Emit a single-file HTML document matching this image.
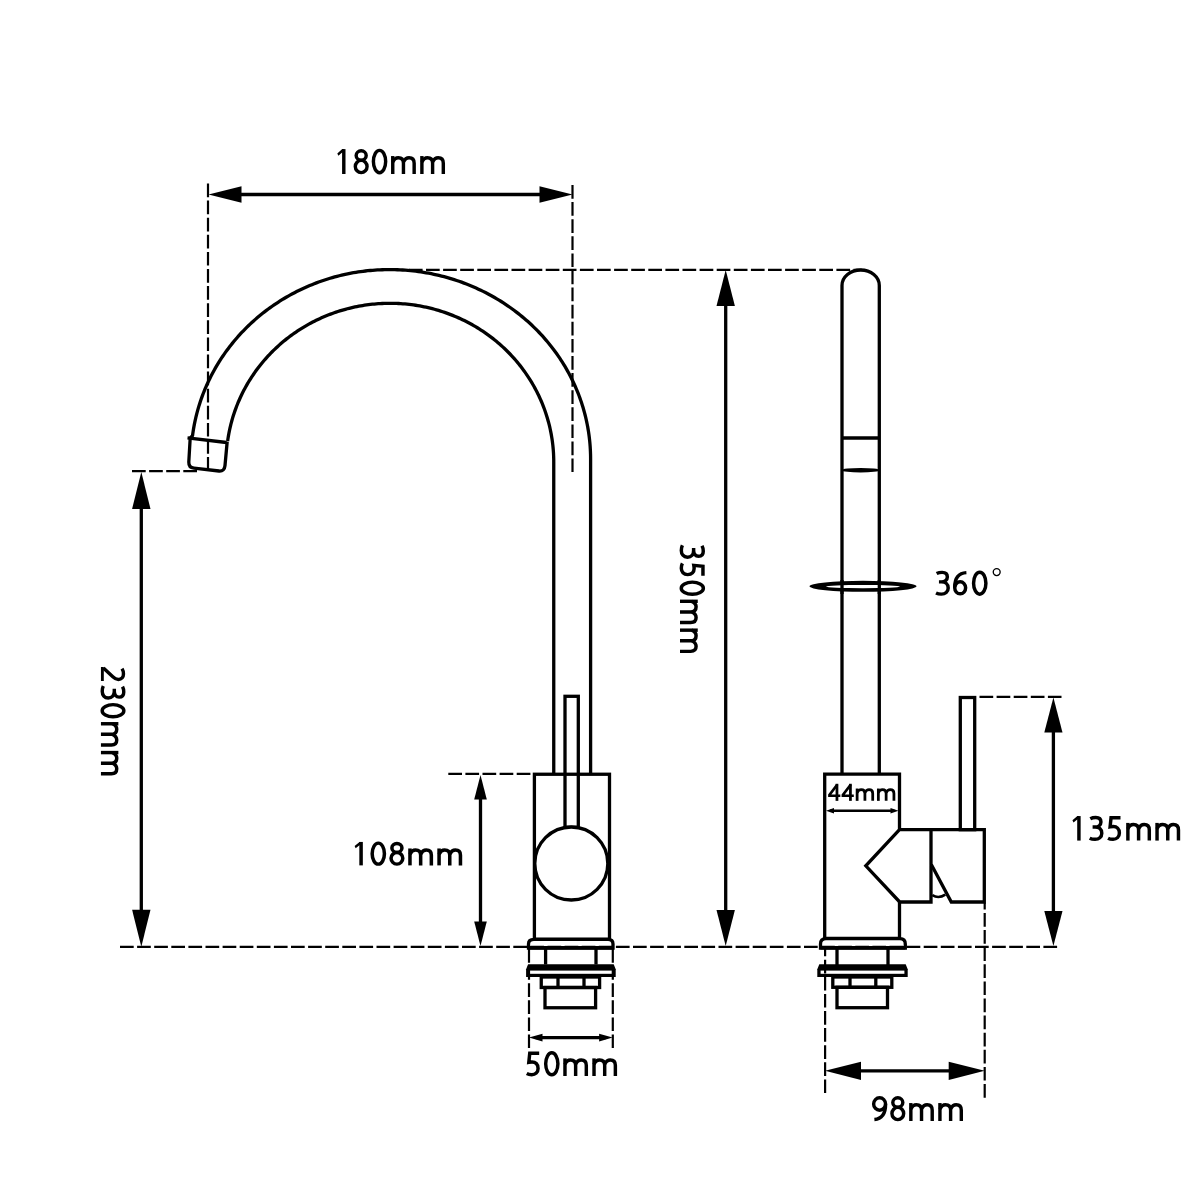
<!DOCTYPE html>
<html><head><meta charset="utf-8"><style>
html,body{margin:0;padding:0;background:#fff;width:1200px;height:1200px;overflow:hidden}
svg{display:block}
text{font-family:"Liberation Sans",sans-serif;fill:#000}
</style></head><body>
<svg width="1200" height="1200" viewBox="0 0 1200 1200" stroke="#000" fill="none" stroke-linecap="butt">
<rect x="0" y="0" width="1200" height="1200" fill="#fff" stroke="none"/>
<line x1="225.0" y1="194.5" x2="556.0" y2="194.5" stroke-width="3.3"/>
<polygon points="208.5,194.5 241.5,186.2 241.5,202.8" fill="#000" stroke="none"/>
<polygon points="572.5,194.5 539.5,186.2 539.5,202.8" fill="#000" stroke="none"/>
<line x1="141.3" y1="490.5" x2="141.3" y2="928.2" stroke-width="3.3"/>
<polygon points="141.3,472 132.10000000000002,509 150.5,509" fill="#000" stroke="none"/>
<polygon points="141.3,946.7 132.10000000000002,909.7 150.5,909.7" fill="#000" stroke="none"/>
<line x1="725.7" y1="288.0" x2="725.7" y2="928.0" stroke-width="3.3"/>
<polygon points="725.7,270 716.5,306 734.9000000000001,306" fill="#000" stroke="none"/>
<polygon points="725.7,946 716.5,910 734.9000000000001,910" fill="#000" stroke="none"/>
<line x1="480.5" y1="787.25" x2="480.5" y2="933.75" stroke-width="3.3"/>
<polygon points="480.5,775 474.2,799.5 486.8,799.5" fill="#000" stroke="none"/>
<polygon points="480.5,946 474.2,921.5 486.8,921.5" fill="#000" stroke="none"/>
<line x1="1053.4" y1="715.0" x2="1053.4" y2="928.5" stroke-width="3.3"/>
<polygon points="1053.4,697.5 1044.3000000000002,732.5 1062.5,732.5" fill="#000" stroke="none"/>
<polygon points="1053.4,946 1044.3000000000002,911 1062.5,911" fill="#000" stroke="none"/>
<line x1="535.75" y1="1037.6" x2="605.85" y2="1037.6" stroke-width="3.4"/>
<polygon points="529,1037.6 542.5,1033.8 542.5,1041.3999999999999" fill="#000" stroke="none"/>
<polygon points="612.6,1037.6 599.1,1033.8 599.1,1041.3999999999999" fill="#000" stroke="none"/>
<line x1="830.0" y1="810.8" x2="894.5" y2="810.8" stroke-width="2.6"/>
<polygon points="826,810.8 834,808.0 834,813.5999999999999" fill="#000" stroke="none"/>
<polygon points="898.5,810.8 890.5,808.0 890.5,813.5999999999999" fill="#000" stroke="none"/>
<line x1="843.0" y1="1070.8" x2="966.7" y2="1070.8" stroke-width="3.3"/>
<polygon points="825,1070.8 861,1061.7 861,1079.8999999999999" fill="#000" stroke="none"/>
<polygon points="984.7,1070.8 948.7,1061.7 948.7,1079.8999999999999" fill="#000" stroke="none"/>
<path d="M190.30,438.00 L192.51,435.71 L192.82,433.43 L193.16,431.15 L193.53,428.87 L193.93,426.60 L194.35,424.33 L194.81,422.07 L195.30,419.81 L195.81,417.56 L196.35,415.31 L196.92,413.08 L197.52,410.84 L198.15,408.62 L198.81,406.40 L199.49,404.19 L200.20,401.99 L200.95,399.80 L201.71,397.62 L202.51,395.44 L203.33,393.28 L204.19,391.12 L205.07,388.97 L205.97,386.84 L206.91,384.71 L207.87,382.60 L208.85,380.50 L209.87,378.41 L210.91,376.33 L211.98,374.26 L213.07,372.21 L214.19,370.17 L215.33,368.14 L216.50,366.12 L217.70,364.12 L218.92,362.14 L220.17,360.16 L221.44,358.20 L222.74,356.26 L224.06,354.33 L225.41,352.42 L226.78,350.52 L228.18,348.64 L229.59,346.78 L231.04,344.93 L232.50,343.10 L233.99,341.29 L235.50,339.49 L237.04,337.71 L238.60,335.95 L240.18,334.21 L241.78,332.49 L243.40,330.78 L245.05,329.10 L246.71,327.43 L248.40,325.78 L250.11,324.15 L251.84,322.55 L253.59,320.96 L255.36,319.39 L257.15,317.84 L258.96,316.32 L260.79,314.81 L262.63,313.33 L264.50,311.87 L266.39,310.43 L268.29,309.01 L270.21,307.62 L272.15,306.24 L274.10,304.89 L276.08,303.56 L278.07,302.26 L280.07,300.98 L282.10,299.72 L284.14,298.48 L286.19,297.27 L288.26,296.09 L290.34,294.92 L292.44,293.78 L294.56,292.67 L296.68,291.58 L298.82,290.52 L300.98,289.48 L303.15,288.46 L305.33,287.47 L307.52,286.51 L309.72,285.57 L311.94,284.66 L314.17,283.77 L316.41,282.91 L318.66,282.07 L320.92,281.26 L323.19,280.48 L325.47,279.72 L327.76,278.99 L330.06,278.29 L332.37,277.61 L334.69,276.96 L337.01,276.34 L339.34,275.75 L341.68,275.18 L344.03,274.64 L346.38,274.12 L348.74,273.64 L351.11,273.18 L353.48,272.74 L355.86,272.34 L358.24,271.96 L360.63,271.61 L363.02,271.29 L365.41,271.00 L367.81,270.73 L370.21,270.50 L372.62,270.29 L375.03,270.10 L377.43,269.95 L379.85,269.82 L382.26,269.73 L384.67,269.66 L387.09,269.61 L389.50,269.60 L392.13,269.62 L394.76,269.66 L397.40,269.75 L400.02,269.86 L402.65,270.01 L405.28,270.18 L407.90,270.39 L410.52,270.64 L413.14,270.91 L415.75,271.22 L418.36,271.56 L420.96,271.93 L423.56,272.34 L426.15,272.77 L428.73,273.24 L431.31,273.74 L433.88,274.27 L436.45,274.83 L439.00,275.43 L441.55,276.05 L444.09,276.71 L446.62,277.40 L449.13,278.12 L451.64,278.87 L454.14,279.65 L456.63,280.46 L459.10,281.31 L461.57,282.18 L464.02,283.08 L466.46,284.02 L468.88,284.98 L471.29,285.97 L473.69,287.00 L476.08,288.05 L478.44,289.13 L480.80,290.24 L483.14,291.38 L485.46,292.55 L487.76,293.75 L490.05,294.97 L492.32,296.23 L494.57,297.51 L496.81,298.82 L499.03,300.16 L501.23,301.52 L503.40,302.91 L505.56,304.33 L507.70,305.77 L509.82,307.24 L511.92,308.74 L514.00,310.26 L516.06,311.81 L518.09,313.38 L520.10,314.98 L522.09,316.60 L524.06,318.25 L526.01,319.92 L527.93,321.61 L529.83,323.33 L531.70,325.07 L533.55,326.84 L535.37,328.63 L537.17,330.44 L538.95,332.27 L540.69,334.12 L542.42,335.99 L544.11,337.89 L545.78,339.81 L547.43,341.74 L549.04,343.70 L550.63,345.68 L552.19,347.67 L553.73,349.69 L555.23,351.72 L556.71,353.77 L558.16,355.85 L559.58,357.93 L560.97,360.04 L562.33,362.16 L563.66,364.30 L564.96,366.46 L566.23,368.63 L567.47,370.81 L568.68,373.01 L569.86,375.23 L571.01,377.46 L572.13,379.71 L573.21,381.96 L574.27,384.24 L575.29,386.52 L576.28,388.82 L577.24,391.13 L578.17,393.45 L579.07,395.78 L579.93,398.12 L580.76,400.47 L581.55,402.84 L582.32,405.21 L583.05,407.59 L583.75,409.98 L584.41,412.38 L585.04,414.79 L585.64,417.20 L586.21,419.62 L586.74,422.05 L587.23,424.48 L587.70,426.93 L588.12,429.37 L588.52,431.82 L588.88,434.28 L589.21,436.74 L589.50,439.20 L589.76,441.67 L589.98,444.14 L590.17,446.61 L590.32,449.09 L590.44,451.56 L590.53,454.04 L590.58,456.52 L590.60,459.00 L590.6,774" fill="none" stroke-width="3.3" stroke-linejoin="round"/>
<path d="M227.64,441.00 L227.91,439.12 L228.21,437.24 L228.52,435.36 L228.87,433.49 L229.23,431.62 L229.62,429.75 L230.03,427.89 L230.46,426.04 L230.92,424.19 L231.40,422.34 L231.90,420.51 L232.42,418.67 L232.97,416.85 L233.54,415.03 L234.13,413.21 L234.75,411.41 L235.38,409.61 L236.04,407.82 L236.72,406.03 L237.43,404.26 L238.15,402.49 L238.90,400.73 L239.67,398.98 L240.46,397.24 L241.27,395.51 L242.10,393.79 L242.96,392.07 L243.83,390.37 L244.73,388.68 L245.65,387.00 L246.58,385.33 L247.54,383.67 L248.52,382.02 L249.52,380.38 L250.54,378.76 L251.58,377.14 L252.64,375.54 L253.72,373.96 L254.82,372.38 L255.94,370.82 L257.07,369.27 L258.23,367.73 L259.41,366.21 L260.60,364.70 L261.81,363.20 L263.04,361.72 L264.29,360.25 L265.56,358.80 L266.85,357.36 L268.15,355.94 L269.47,354.53 L270.81,353.14 L272.16,351.77 L273.54,350.41 L274.92,349.06 L276.33,347.73 L277.75,346.42 L279.19,345.13 L280.64,343.85 L282.11,342.59 L283.60,341.34 L285.10,340.12 L286.61,338.91 L288.14,337.72 L289.69,336.54 L291.24,335.39 L292.82,334.25 L294.40,333.13 L296.01,332.03 L297.62,330.95 L299.25,329.88 L300.89,328.84 L302.54,327.82 L304.21,326.81 L305.89,325.82 L307.58,324.86 L309.28,323.91 L310.99,322.98 L312.72,322.07 L314.45,321.19 L316.20,320.32 L317.96,319.47 L319.73,318.65 L321.50,317.84 L323.29,317.06 L325.09,316.29 L326.90,315.55 L328.71,314.83 L330.54,314.13 L332.37,313.45 L334.21,312.79 L336.06,312.15 L337.92,311.54 L339.78,310.94 L341.66,310.37 L343.54,309.82 L345.42,309.29 L347.31,308.78 L349.21,308.30 L351.12,307.84 L353.02,307.40 L354.94,306.98 L356.86,306.58 L358.78,306.21 L360.71,305.86 L362.65,305.53 L364.58,305.22 L366.53,304.94 L368.47,304.68 L370.42,304.44 L372.37,304.22 L374.32,304.03 L376.28,303.86 L378.23,303.71 L380.19,303.58 L382.15,303.48 L384.11,303.40 L386.07,303.35 L388.04,303.31 L390.00,303.30 L392.14,303.31 L394.29,303.35 L396.43,303.42 L398.57,303.52 L400.71,303.64 L402.85,303.79 L404.98,303.97 L407.12,304.17 L409.25,304.40 L411.37,304.66 L413.50,304.94 L415.62,305.25 L417.73,305.59 L419.84,305.96 L421.95,306.35 L424.05,306.77 L426.14,307.21 L428.23,307.68 L430.31,308.18 L432.38,308.71 L434.45,309.26 L436.51,309.84 L438.56,310.44 L440.60,311.07 L442.64,311.72 L444.66,312.40 L446.68,313.11 L448.68,313.84 L450.68,314.60 L452.66,315.38 L454.64,316.19 L456.60,317.02 L458.56,317.88 L460.50,318.76 L462.42,319.67 L464.34,320.60 L466.24,321.55 L468.13,322.53 L470.01,323.53 L471.88,324.56 L473.72,325.61 L475.56,326.69 L477.38,327.78 L479.18,328.90 L480.97,330.05 L482.75,331.21 L484.51,332.40 L486.25,333.61 L487.98,334.84 L489.68,336.09 L491.38,337.37 L493.05,338.67 L494.71,339.98 L496.35,341.32 L497.97,342.68 L499.57,344.06 L501.15,345.46 L502.72,346.88 L504.26,348.32 L505.79,349.78 L507.29,351.26 L508.78,352.76 L510.25,354.27 L511.69,355.81 L513.11,357.36 L514.52,358.93 L515.90,360.52 L517.26,362.13 L518.60,363.75 L519.91,365.39 L521.21,367.05 L522.48,368.72 L523.73,370.41 L524.95,372.11 L526.15,373.83 L527.33,375.57 L528.49,377.32 L529.62,379.08 L530.73,380.86 L531.81,382.65 L532.87,384.46 L533.91,386.27 L534.92,388.11 L535.90,389.95 L536.86,391.81 L537.80,393.68 L538.71,395.56 L539.59,397.45 L540.45,399.35 L541.29,401.27 L542.09,403.19 L542.87,405.13 L543.63,407.07 L544.36,409.02 L545.06,410.99 L545.74,412.96 L546.38,414.94 L547.01,416.93 L547.60,418.92 L548.17,420.93 L548.71,422.94 L549.23,424.95 L549.71,426.98 L550.17,429.00 L550.60,431.04 L551.01,433.08 L551.38,435.12 L551.73,437.17 L552.06,439.23 L552.35,441.29 L552.61,443.35 L552.85,445.41 L553.06,447.48 L553.25,449.55 L553.40,451.62 L553.53,453.69 L553.62,455.77 L553.69,457.85 L553.74,459.92 L553.75,462.00 L553.75,774" fill="none" stroke-width="3.3" stroke-linejoin="round"/>
<path d="M190.2,438 L188.8,462 Q188.6,467.6 194,468.2 L219,471 Q224.5,471.5 225,465.5 L227.2,441.5" fill="none" stroke-width="3.3"/>
<line x1="187.5" y1="437.8" x2="226.5" y2="442.5" stroke-width="3.3"/>
<rect x="565" y="696.3" width="13.3" height="131" fill="none" stroke-width="3.3"/>
<rect x="534.4" y="774.25" width="75.1" height="165.05" fill="none" stroke-width="3.3"/>
<circle cx="571.3" cy="863.5" r="36.5" fill="#fff" stroke-width="3.3"/>
<path d="M528.5,948 L528.5,944 Q528.5,939.4 534,939.4 L608,939.4 Q613,939.4 613,944 L613,948 Z" fill="none" stroke-width="3.3"/>
<line x1="528.5" y1="947.8" x2="613" y2="947.8" stroke-width="3.6"/>
<line x1="545.6" y1="948" x2="545.6" y2="964.5" stroke-width="3.3"/>
<line x1="596" y1="948" x2="596" y2="964.5" stroke-width="3.3"/>
<polygon points="528.1,964.3 613.7,964.3 615.7,969.3 615.7,977.0 526.1,977.0 526.1,969.3" fill="#000" stroke="none"/>
<rect x="529.4" y="970.6" width="83.00" height="3.20" fill="#fff" stroke="none"/>
<rect x="541.25" y="977" width="58.35" height="10.5" fill="none" stroke-width="3.3"/>
<line x1="558" y1="977" x2="558" y2="988.8" stroke-width="3.3"/>
<line x1="584" y1="977" x2="584" y2="988.8" stroke-width="3.3"/>
<rect x="545" y="987.5" width="50.6" height="20.25" fill="none" stroke-width="3.3"/>
<path d="M842,774 L842,285.5 A18.65,15.5 0 0 1 879.3,285.5 L879.3,774" fill="none" stroke-width="3.3"/>
<line x1="842" y1="438" x2="879.3" y2="438" stroke-width="3.3"/>
<ellipse cx="860.6" cy="470.2" rx="18.8" ry="2.3" fill="#000" stroke="none"/>
<ellipse cx="863" cy="586.3" rx="53.5" ry="5.5" fill="#000" stroke="none"/>
<ellipse cx="863" cy="586.6" rx="37" ry="1.65" fill="#fff" stroke="none"/>
<line x1="842" y1="580" x2="842" y2="594" stroke-width="3.3"/>
<line x1="879.3" y1="580" x2="879.3" y2="594" stroke-width="3.3"/>
<path d="M899.5,829.7 L899.5,774.2 L824.7,774.2 L824.7,938.4 L899.5,938.4 L899.5,902" fill="none" stroke-width="3.3"/>
<path d="M899.5,829.7 L865.8,865.8 L899.7,902 L931,902 L931,829.7 Z" fill="none" stroke-width="3.3" stroke-linejoin="miter"/>
<path d="M931,829.7 L984.3,829.7 L984.3,902 L951.3,902 L931.3,864.5" fill="none" stroke-width="3.3"/>
<path d="M932.3,895.2 Q938.7,899 945.3,894.6" fill="none" stroke-width="2.6"/>
<rect x="960.3" y="697.5" width="14.4" height="132.2" fill="none" stroke-width="3.3"/>
<path d="M820.5,948 L820.5,944 Q820.5,938.6 826,938.6 L900,938.6 Q905.3,938.6 905.3,944 L905.3,948 Z" fill="none" stroke-width="3.3"/>
<line x1="820.5" y1="947.8" x2="905.3" y2="947.8" stroke-width="3.6"/>
<line x1="837" y1="948" x2="837" y2="965" stroke-width="3.3"/>
<line x1="888" y1="948" x2="888" y2="965" stroke-width="3.3"/>
<polygon points="819.3,964.3 905.7,964.3 907.7,969.3 907.7,977.0 817.3,977.0 817.3,969.3" fill="#000" stroke="none"/>
<rect x="820.5999999999999" y="970.6" width="83.80" height="3.20" fill="#fff" stroke="none"/>
<rect x="832.8" y="977" width="59" height="10.3" fill="none" stroke-width="3.3"/>
<line x1="850" y1="977" x2="850" y2="987.3" stroke-width="3.3"/>
<line x1="875.8" y1="977" x2="875.8" y2="987.3" stroke-width="3.3"/>
<rect x="837" y="987.3" width="50.5" height="20.4" fill="none" stroke-width="3.3"/>
<line x1="208" y1="183.5" x2="208" y2="470" stroke-width="2.2" stroke-dasharray="13.7 3.40" stroke-dashoffset="0.00"/>
<line x1="572.5" y1="185" x2="572.5" y2="472" stroke-width="2.2" stroke-dasharray="13.7 3.40" stroke-dashoffset="0.00"/>
<line x1="409" y1="269.8" x2="862" y2="269.8" stroke-width="2.2" stroke-dasharray="13.7 3.40" stroke-dashoffset="0.10"/>
<line x1="132" y1="471.2" x2="198" y2="471.2" stroke-width="2.2" stroke-dasharray="13.7 3.40" stroke-dashoffset="0.00"/>
<line x1="448.3" y1="773.9" x2="533" y2="773.9" stroke-width="2.2" stroke-dasharray="13.7 3.40" stroke-dashoffset="0.00"/>
<line x1="120" y1="946.8" x2="1057.5" y2="946.8" stroke-width="2.2" stroke-dasharray="13.7 3.40" stroke-dashoffset="0.00"/>
<line x1="529" y1="946.5" x2="529" y2="1048" stroke-width="2.2" stroke-dasharray="13.7 3.40" stroke-dashoffset="14.60"/>
<line x1="612.8" y1="946.5" x2="612.8" y2="1048" stroke-width="2.2" stroke-dasharray="13.7 3.40" stroke-dashoffset="14.60"/>
<line x1="825.1" y1="947" x2="825.1" y2="1093.6" stroke-width="2.2" stroke-dasharray="13.7 3.40" stroke-dashoffset="4.40"/>
<line x1="984.7" y1="903" x2="984.7" y2="1097.7" stroke-width="2.2" stroke-dasharray="13.7 3.40" stroke-dashoffset="7.10"/>
<line x1="979.5" y1="696.8" x2="1061.5" y2="696.8" stroke-width="2.2" stroke-dasharray="13.7 3.40" stroke-dashoffset="0.00"/>
<g class="gl" transform="translate(337.31,174.0) scale(1.0052,1.02)" stroke-width="3.407" fill="none" stroke-linecap="butt"><g transform="translate(0.00,0)"><polygon points="0,-20.2 4.9,-24.4 6.5,-24.4 6.5,-21.0 4.8,-21.0 1.05,-17.9" fill="#000" stroke="none"/><path d="M6.45,-24.4 V0"/></g><g transform="translate(16.25,0)"><ellipse cx="7.5" cy="-18.15" rx="5.0" ry="4.6"/><ellipse cx="7.5" cy="-7.35" rx="5.85" ry="6.0"/></g><g transform="translate(34.25,0)"><ellipse cx="7.75" cy="-12.2" rx="6.1" ry="10.95"/></g><g transform="translate(53.50,0)"><path d="M1.65,0 V-17.6"/><path d="M1.65,-11.6 C3,-14.8 4.9,-15.95 7.2,-15.95 C10.6,-15.95 12.3,-14 12.3,-10.6 V0"/><path d="M12.3,-11.6 C13.7,-14.8 15.6,-15.95 17.9,-15.95 C21.3,-15.95 22.95,-14 22.95,-10.6 V0"/></g><g transform="translate(82.50,0)"><path d="M1.65,0 V-17.6"/><path d="M1.65,-11.6 C3,-14.8 4.9,-15.95 7.2,-15.95 C10.6,-15.95 12.3,-14 12.3,-10.6 V0"/><path d="M12.3,-11.6 C13.7,-14.8 15.6,-15.95 17.9,-15.95 C21.3,-15.95 22.95,-14 22.95,-10.6 V0"/></g></g>
<g class="gl" transform="translate(100.94,666.71) rotate(90) scale(0.9939,0.9899)" stroke-width="3.478" fill="none" stroke-linecap="butt"><g transform="translate(0.00,0)"><path d="M0.3,-1.45 H14.4" stroke-width="2.9"/><path d="M1.2,-2.5 L10.1,-12.0 C12,-14 12.85,-15.6 12.85,-17.6 C12.85,-20.85 10.6,-22.75 7.3,-22.75 C5.1,-22.75 3.3,-22.2 1.9,-21.3"/></g><g transform="translate(18.50,0)"><path d="M1.5,-21.8 C3,-22.6 4.9,-23.05 7,-23.05 C10.2,-23.05 12.1,-21.2 12.1,-18.4 C12.1,-15.3 9.6,-13.5 6.2,-13.5 H3.8 M6.2,-13.5 C10.2,-13.5 12.95,-11.2 12.95,-7.4 C12.95,-3.5 10,-1.3 6.2,-1.3 C4,-1.3 2.1,-1.8 0.9,-2.4"/></g><g transform="translate(36.50,0)"><ellipse cx="7.75" cy="-12.2" rx="6.1" ry="10.95"/></g><g transform="translate(55.75,0)"><path d="M1.65,0 V-17.6"/><path d="M1.65,-11.6 C3,-14.8 4.9,-15.95 7.2,-15.95 C10.6,-15.95 12.3,-14 12.3,-10.6 V0"/><path d="M12.3,-11.6 C13.7,-14.8 15.6,-15.95 17.9,-15.95 C21.3,-15.95 22.95,-14 22.95,-10.6 V0"/></g><g transform="translate(84.75,0)"><path d="M1.65,0 V-17.6"/><path d="M1.65,-11.6 C3,-14.8 4.9,-15.95 7.2,-15.95 C10.6,-15.95 12.3,-14 12.3,-10.6 V0"/><path d="M12.3,-11.6 C13.7,-14.8 15.6,-15.95 17.9,-15.95 C21.3,-15.95 22.95,-14 22.95,-10.6 V0"/></g></g>
<g class="gl" transform="translate(680.0,544.29) rotate(90) scale(0.9952,1.0091)" stroke-width="3.443" fill="none" stroke-linecap="butt"><g transform="translate(0.00,0)"><path d="M1.5,-21.8 C3,-22.6 4.9,-23.05 7,-23.05 C10.2,-23.05 12.1,-21.2 12.1,-18.4 C12.1,-15.3 9.6,-13.5 6.2,-13.5 H3.8 M6.2,-13.5 C10.2,-13.5 12.95,-11.2 12.95,-7.4 C12.95,-3.5 10,-1.3 6.2,-1.3 C4,-1.3 2.1,-1.8 0.9,-2.4"/></g><g transform="translate(18.25,0)"><path d="M13.3,-22.75 H3.9 L2.95,-13.7 C4.1,-13.9 5.1,-14 6.2,-14 C9.6,-14 12.2,-11.9 12.2,-7.6 C12.2,-3.6 9.5,-1.3 5.9,-1.3 C3.8,-1.3 2,-1.8 0.9,-2.4" stroke-linejoin="miter"/></g><g transform="translate(36.40,0)"><ellipse cx="7.75" cy="-12.2" rx="6.1" ry="10.95"/></g><g transform="translate(55.65,0)"><path d="M1.65,0 V-17.6"/><path d="M1.65,-11.6 C3,-14.8 4.9,-15.95 7.2,-15.95 C10.6,-15.95 12.3,-14 12.3,-10.6 V0"/><path d="M12.3,-11.6 C13.7,-14.8 15.6,-15.95 17.9,-15.95 C21.3,-15.95 22.95,-14 22.95,-10.6 V0"/></g><g transform="translate(84.65,0)"><path d="M1.65,0 V-17.6"/><path d="M1.65,-11.6 C3,-14.8 4.9,-15.95 7.2,-15.95 C10.6,-15.95 12.3,-14 12.3,-10.6 V0"/><path d="M12.3,-11.6 C13.7,-14.8 15.6,-15.95 17.9,-15.95 C21.3,-15.95 22.95,-14 22.95,-10.6 V0"/></g></g>
<g class="gl" transform="translate(354.61,865.38) scale(1.0037,0.9608)" stroke-width="3.512" fill="none" stroke-linecap="butt"><g transform="translate(0.00,0)"><polygon points="0,-20.2 4.9,-24.4 6.5,-24.4 6.5,-21.0 4.8,-21.0 1.05,-17.9" fill="#000" stroke="none"/><path d="M6.45,-24.4 V0"/></g><g transform="translate(15.85,0)"><ellipse cx="7.75" cy="-12.2" rx="6.1" ry="10.95"/></g><g transform="translate(34.65,0)"><ellipse cx="7.5" cy="-18.15" rx="5.0" ry="4.6"/><ellipse cx="7.5" cy="-7.35" rx="5.85" ry="6.0"/></g><g transform="translate(53.50,0)"><path d="M1.65,0 V-17.6"/><path d="M1.65,-11.6 C3,-14.8 4.9,-15.95 7.2,-15.95 C10.6,-15.95 12.3,-14 12.3,-10.6 V0"/><path d="M12.3,-11.6 C13.7,-14.8 15.6,-15.95 17.9,-15.95 C21.3,-15.95 22.95,-14 22.95,-10.6 V0"/></g><g transform="translate(82.50,0)"><path d="M1.65,0 V-17.6"/><path d="M1.65,-11.6 C3,-14.8 4.9,-15.95 7.2,-15.95 C10.6,-15.95 12.3,-14 12.3,-10.6 V0"/><path d="M12.3,-11.6 C13.7,-14.8 15.6,-15.95 17.9,-15.95 C21.3,-15.95 22.95,-14 22.95,-10.6 V0"/></g></g>
<g class="gl" transform="translate(525.85,1076.0) scale(1.0018,1.001)" stroke-width="3.445" fill="none" stroke-linecap="butt"><g transform="translate(0.00,0)"><path d="M13.3,-22.75 H3.9 L2.95,-13.7 C4.1,-13.9 5.1,-14 6.2,-14 C9.6,-14 12.2,-11.9 12.2,-7.6 C12.2,-3.6 9.5,-1.3 5.9,-1.3 C3.8,-1.3 2,-1.8 0.9,-2.4" stroke-linejoin="miter"/></g><g transform="translate(18.15,0)"><ellipse cx="7.75" cy="-12.2" rx="6.1" ry="10.95"/></g><g transform="translate(37.40,0)"><path d="M1.65,0 V-17.6"/><path d="M1.65,-11.6 C3,-14.8 4.9,-15.95 7.2,-15.95 C10.6,-15.95 12.3,-14 12.3,-10.6 V0"/><path d="M12.3,-11.6 C13.7,-14.8 15.6,-15.95 17.9,-15.95 C21.3,-15.95 22.95,-14 22.95,-10.6 V0"/></g><g transform="translate(66.40,0)"><path d="M1.65,0 V-17.6"/><path d="M1.65,-11.6 C3,-14.8 4.9,-15.95 7.2,-15.95 C10.6,-15.95 12.3,-14 12.3,-10.6 V0"/><path d="M12.3,-11.6 C13.7,-14.8 15.6,-15.95 17.9,-15.95 C21.3,-15.95 22.95,-14 22.95,-10.6 V0"/></g></g>
<g class="gl" transform="translate(871.98,1121.0) scale(1.003,1.02)" stroke-width="3.411" fill="none" stroke-linecap="butt"><g transform="translate(0.00,0)"><ellipse cx="7.6" cy="-16.7" rx="5.95" ry="6.05"/><path d="M13.55,-16.5 C13.55,-7.6 10.2,-2.2 2.4,-1.55"/></g><g transform="translate(18.25,0)"><ellipse cx="7.5" cy="-18.15" rx="5.0" ry="4.6"/><ellipse cx="7.5" cy="-7.35" rx="5.85" ry="6.0"/></g><g transform="translate(37.10,0)"><path d="M1.65,0 V-17.6"/><path d="M1.65,-11.6 C3,-14.8 4.9,-15.95 7.2,-15.95 C10.6,-15.95 12.3,-14 12.3,-10.6 V0"/><path d="M12.3,-11.6 C13.7,-14.8 15.6,-15.95 17.9,-15.95 C21.3,-15.95 22.95,-14 22.95,-10.6 V0"/></g><g transform="translate(66.10,0)"><path d="M1.65,0 V-17.6"/><path d="M1.65,-11.6 C3,-14.8 4.9,-15.95 7.2,-15.95 C10.6,-15.95 12.3,-14 12.3,-10.6 V0"/><path d="M12.3,-11.6 C13.7,-14.8 15.6,-15.95 17.9,-15.95 C21.3,-15.95 22.95,-14 22.95,-10.6 V0"/></g></g>
<g class="gl" transform="translate(1072.44,840.59) scale(1.0054,1.0049)" stroke-width="3.432" fill="none" stroke-linecap="butt"><g transform="translate(0.00,0)"><polygon points="0,-20.2 4.9,-24.4 6.5,-24.4 6.5,-21.0 4.8,-21.0 1.05,-17.9" fill="#000" stroke="none"/><path d="M6.45,-24.4 V0"/></g><g transform="translate(16.25,0)"><path d="M1.5,-21.8 C3,-22.6 4.9,-23.05 7,-23.05 C10.2,-23.05 12.1,-21.2 12.1,-18.4 C12.1,-15.3 9.6,-13.5 6.2,-13.5 H3.8 M6.2,-13.5 C10.2,-13.5 12.95,-11.2 12.95,-7.4 C12.95,-3.5 10,-1.3 6.2,-1.3 C4,-1.3 2.1,-1.8 0.9,-2.4"/></g><g transform="translate(34.50,0)"><path d="M13.3,-22.75 H3.9 L2.95,-13.7 C4.1,-13.9 5.1,-14 6.2,-14 C9.6,-14 12.2,-11.9 12.2,-7.6 C12.2,-3.6 9.5,-1.3 5.9,-1.3 C3.8,-1.3 2,-1.8 0.9,-2.4" stroke-linejoin="miter"/></g><g transform="translate(53.50,0)"><path d="M1.65,0 V-17.6"/><path d="M1.65,-11.6 C3,-14.8 4.9,-15.95 7.2,-15.95 C10.6,-15.95 12.3,-14 12.3,-10.6 V0"/><path d="M12.3,-11.6 C13.7,-14.8 15.6,-15.95 17.9,-15.95 C21.3,-15.95 22.95,-14 22.95,-10.6 V0"/></g><g transform="translate(82.50,0)"><path d="M1.65,0 V-17.6"/><path d="M1.65,-11.6 C3,-14.8 4.9,-15.95 7.2,-15.95 C10.6,-15.95 12.3,-14 12.3,-10.6 V0"/><path d="M12.3,-11.6 C13.7,-14.8 15.6,-15.95 17.9,-15.95 C21.3,-15.95 22.95,-14 22.95,-10.6 V0"/></g></g>
<g class="gl" transform="translate(828.25,800.85) scale(0.7319,0.6996)" stroke-width="3.772" fill="none" stroke-linecap="butt"><g transform="translate(0.00,0)"><path d="M12.2,-23.1 L1.7,-8.6 L1.7,-7.25 H16.5" stroke-linejoin="miter"/><path d="M11.9,-24.4 V0"/></g><g transform="translate(18.40,0)"><path d="M12.2,-23.1 L1.7,-8.6 L1.7,-7.25 H16.5" stroke-linejoin="miter"/><path d="M11.9,-24.4 V0"/></g><g transform="translate(37.80,0)"><path d="M1.65,0 V-17.6"/><path d="M1.65,-11.6 C3,-14.8 4.9,-15.95 7.2,-15.95 C10.6,-15.95 12.3,-14 12.3,-10.6 V0"/><path d="M12.3,-11.6 C13.7,-14.8 15.6,-15.95 17.9,-15.95 C21.3,-15.95 22.95,-14 22.95,-10.6 V0"/></g><g transform="translate(66.80,0)"><path d="M1.65,0 V-17.6"/><path d="M1.65,-11.6 C3,-14.8 4.9,-15.95 7.2,-15.95 C10.6,-15.95 12.3,-14 12.3,-10.6 V0"/><path d="M12.3,-11.6 C13.7,-14.8 15.6,-15.95 17.9,-15.95 C21.3,-15.95 22.95,-14 22.95,-10.6 V0"/></g></g>
<g class="gl" transform="translate(935.11,595.41) scale(1.0108,1.0004)" stroke-width="3.431" fill="none" stroke-linecap="butt"><g transform="translate(0.00,0)"><path d="M1.5,-21.8 C3,-22.6 4.9,-23.05 7,-23.05 C10.2,-23.05 12.1,-21.2 12.1,-18.4 C12.1,-15.3 9.6,-13.5 6.2,-13.5 H3.8 M6.2,-13.5 C10.2,-13.5 12.95,-11.2 12.95,-7.4 C12.95,-3.5 10,-1.3 6.2,-1.3 C4,-1.3 2.1,-1.8 0.9,-2.4"/></g><g transform="translate(17.75,0)"><ellipse cx="7.05" cy="-7.6" rx="5.4" ry="6.0"/><path d="M13.2,-22.75 C6.2,-22.3 1.65,-17.6 1.65,-8.2"/></g><g transform="translate(36.40,0)"><ellipse cx="7.75" cy="-12.2" rx="6.1" ry="10.95"/></g></g>
<circle cx="996.7" cy="572.1" r="3.45" fill="none" stroke-width="1.35"/>
</svg>
</body></html>
